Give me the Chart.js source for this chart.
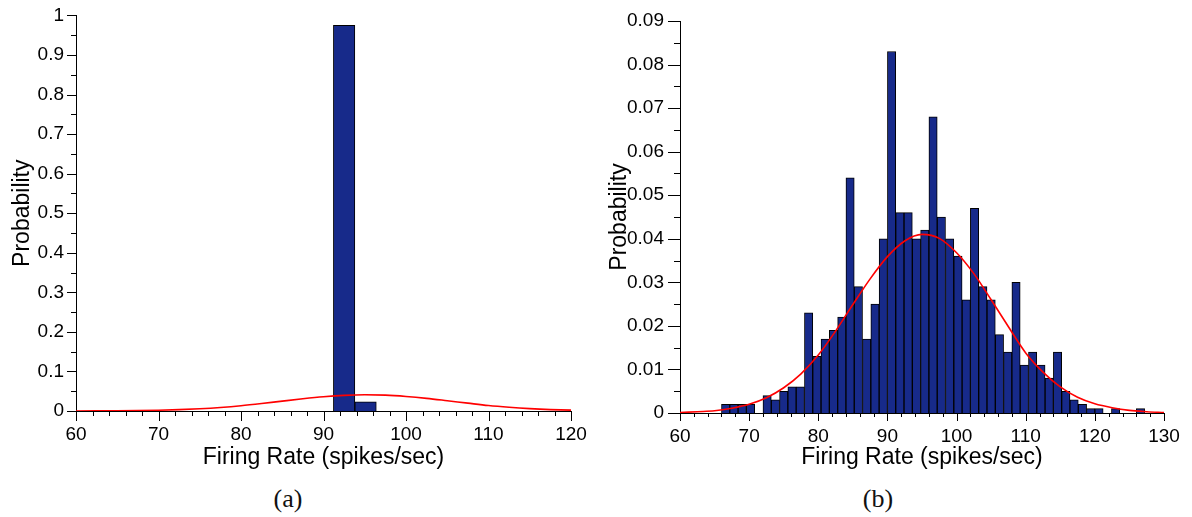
<!DOCTYPE html>
<html>
<head>
<meta charset="utf-8">
<script src="https://cdn.jsdelivr.net/npm/chart.js@4.4.1/dist/chart.umd.min.js"></script>
<style>
    body { margin: 0; background: #fff; }
    #wrap { position: relative; width: 1192px; height: 517px; }
    canvas { position: absolute; top: 0; }
    .caption {
        position: absolute; top: 484px; width: 60px; text-align: center;
        font-family: 'Liberation Serif', 'DejaVu Serif', serif; font-size: 26px; color: #111;
    }
</style>
</head>
<body>
<div id="wrap">
    <canvas id="histA" width="600" height="480" style="left:0px"></canvas>
    <canvas id="histB" width="592" height="480" style="left:600px"></canvas>
    <div class="caption" style="left:258px">(a)</div>
    <div class="caption" style="left:848px">(b)</div>
</div>
<script>
// (a) almost all the mass lands in one bin
let binsA = [92.5, 95.1]
let probA = [0.975, 0.023]

// (b) bins of 1.2 spikes/sec
let binsB = [66.6, 67.8, 69.0, 70.2, 71.4, 72.6, 73.8, 75.0, 76.2, 77.4,
    78.6, 79.8, 81.0, 82.2, 83.4, 84.6, 85.8, 87.0, 88.2, 89.4,
    90.6, 91.8, 93.0, 94.2, 95.4, 96.6, 97.8, 99.0, 100.2, 101.4,
    102.6, 103.8, 105.0, 106.2, 107.4, 108.6, 109.8, 111.0, 112.2, 113.4,
    114.6, 115.8, 117.0, 118.2, 119.4, 120.6, 121.8, 123.0, 124.2, 125.4, 126.6]
let probB = [0.002, 0.002, 0.002, 0.002, 0.000, 0.004, 0.003, 0.005, 0.006, 0.006,
    0.023, 0.013, 0.017, 0.019, 0.022, 0.054, 0.029, 0.017, 0.025, 0.040,
    0.083, 0.046, 0.046, 0.040, 0.042, 0.068, 0.045, 0.040, 0.036, 0.026,
    0.047, 0.029, 0.026, 0.018, 0.014, 0.030, 0.011, 0.014, 0.011, 0.008,
    0.014, 0.005, 0.003, 0.002, 0.001, 0.001, 0.000, 0.001, 0.000, 0.000, 0.001]

// fitted normal curve, same in both panels
let fitX = [60, 62.5, 65, 67.5, 70, 72.5, 75, 77.5, 80, 82.5, 85, 87.5, 90, 92.5, 95,
    97.5, 100, 102.5, 105, 107.5, 110, 112.5, 115, 117.5, 120, 122.5, 125, 127.5, 130]
let fitY = [0.0001, 0.0003, 0.0005, 0.0011, 0.0020, 0.0035, 0.0058, 0.0090, 0.0133, 0.0188,
    0.0249, 0.0308, 0.0359, 0.0395, 0.0410, 0.0401, 0.0368, 0.0320, 0.0260, 0.0198,
    0.0138, 0.0094, 0.0060, 0.0036, 0.0021, 0.0012, 0.0006, 0.0003, 0.0001]

Chart.defaults.color = '#000'
Chart.defaults.font.family = "'Liberation Sans', Arial, sans-serif"

// chart.js only has one tick length, so ticks are drawn here (minor + major)
const tickMarks = {
    id: 'tickMarks',
    afterDraw(chart, args, opts) {
        let ctx = chart.ctx
        let area = chart.chartArea
        ctx.save()
        ctx.strokeStyle = '#000'
        ctx.lineWidth = 1
        for (let id of ['x', 'y']) {
            let o = opts[id]
            let scale = chart.scales[id]
            let n = Math.round((scale.max - scale.min) / o.minor)
            for (let i = 0; i <= n; i++) {
                let v = scale.min + i * o.minor
                let isMajor = Math.abs(v / o.major - Math.round(v / o.major)) < 1e-6
                let len = isMajor ? o.majorLen : o.minorLen
                let p = Math.round(scale.getPixelForValue(v)) + 0.5
                ctx.beginPath()
                if (id == 'x') {
                    ctx.moveTo(p, area.bottom)
                    ctx.lineTo(p, area.bottom + len)
                } else {
                    ctx.moveTo(area.left, p)
                    ctx.lineTo(area.left - len, p)
                }
                ctx.stroke()
            }
        }
        ctx.restore()
    }
}

function histogram(canvasId, bins, probs, cfg) {
    let bars = bins.map((b, i) => ({ x: b, y: probs[i] }))
    let curve = fitX.map((x, i) => ({ x: x, y: fitY[i] }))
    return new Chart(document.getElementById(canvasId), {
        type: 'bar',
        data: {
            datasets: [
                {
                    type: 'line',
                    data: curve,
                    borderColor: '#ff0000',
                    borderWidth: 1.6,
                    pointRadius: 0,
                    cubicInterpolationMode: 'monotone',
                    order: 0
                },
                {
                    data: bars,
                    backgroundColor: '#172a8a',
                    borderColor: '#000',
                    borderWidth: 1,
                    barPercentage: 1,
                    categoryPercentage: 1,
                    grouped: false,
                    order: 1
                }
            ]
        },
        options: {
            responsive: false,
            animation: false,
            layout: { padding: { left: 0, top: cfg.top, right: cfg.right, bottom: 0 } },
            plugins: {
                legend: { display: false },
                tooltip: { enabled: false },
                tickMarks: cfg.ticks
            },
            scales: {
                x: {
                    type: 'linear',
                    offset: false,
                    min: cfg.xMin,
                    max: cfg.xMax,
                    grid: { display: false },
                    border: { color: '#000', width: 1 },
                    ticks: { stepSize: 10, padding: 4, font: { size: 19 } },
                    title: {
                        display: true,
                        text: 'Firing Rate (spikes/sec)',
                        font: { size: 23 },
                        padding: { top: 0, bottom: 9 }
                    },
                    afterFit: s => { s.height = cfg.xHeight }
                },
                y: {
                    min: 0,
                    max: cfg.yMax,
                    grid: { display: false },
                    border: { color: '#000', width: 1 },
                    ticks: { stepSize: cfg.yStep, padding: cfg.yPad, font: { size: 19 }, callback: cfg.yLabel },
                    title: {
                        display: true,
                        text: 'Probability',
                        font: { size: 23 },
                        padding: { top: cfg.titlePad, bottom: 0 }
                    },
                    afterFit: s => { s.width = cfg.yWidth }
                }
            }
        },
        plugins: [tickMarks]
    })
}

histogram('histA', binsA, probA, {
    top: 12, right: 29, xMin: 60, xMax: 120, xHeight: 69, yMax: 1, yStep: 0.1, yPad: 4, yWidth: 76, titlePad: 9,
    yLabel: v => String(Number(v.toFixed(1))),
    ticks: {
        x: { minor: 2, major: 10, minorLen: 5, majorLen: 10 },
        y: { minor: 0.05, major: 0.1, minorLen: 5, majorLen: 9 }
    }
})

histogram('histB', binsB, probB, {
    top: 21, right: 28, xMin: 60, xMax: 130, xHeight: 67, yMax: 0.09, yStep: 0.01, yPad: 8, yWidth: 80, titlePad: 6,
    yLabel: v => v === 0 ? '0' : v.toFixed(2),
    ticks: {
        x: { minor: 2, major: 10, minorLen: 4, majorLen: 8 },
        y: { minor: 0.005, major: 0.01, minorLen: 6, majorLen: 12 }
    }
})
</script>
</body>
</html>
